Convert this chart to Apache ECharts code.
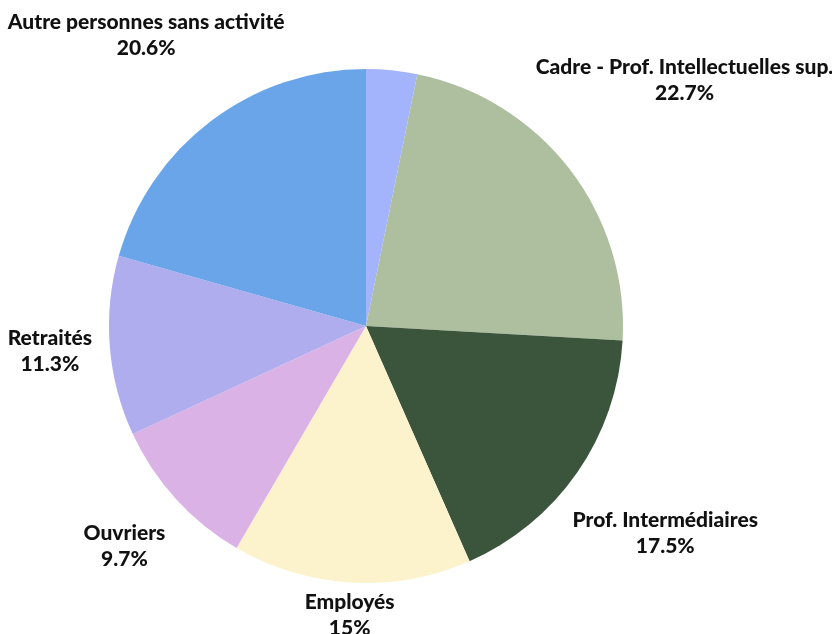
<!DOCTYPE html>
<html><head><meta charset="utf-8">
<script src="https://cdn.jsdelivr.net/npm/echarts@6/dist/echarts.min.js"></script>
<style>html,body{margin:0;padding:0;background:#fff}#c{width:832px;height:634px}</style>
</head><body><div id="c"></div>
<script>
const categories = ['Artisans, commerçants', 'Cadre - Prof. Intellectuelles sup.', 'Prof. Intermédiaires', 'Employés', 'Ouvriers', 'Retraités', 'Autre personnes sans activité'];
const values = [3.2, 22.7, 17.5, 15, 9.7, 11.3, 20.6];
const showLabel = [false, true, true, true, true, true, true];
const colors = ['#a3b4fd', '#adbf9e', '#3b543c', '#fcf2cb', '#dbb2e6', '#b0adee', '#6aa5e9'];
// extra radial push for each label (style)
const labelPush = [0, 15, 12, 0, 16, 11, 15];

const CX = 366, CY = 326, R = 257, GAP = 6;
const total = values.reduce((a, b) => a + b, 0);
const cum = [];
values.reduce((acc, v, i) => { cum[i] = acc; return acc + v; }, 0);

const chart = echarts.init(document.getElementById('c'), null, { renderer: 'canvas' });
chart.setOption({
  animation: false,
  backgroundColor: '#fff',
  series: [{
    type: 'pie',
    center: [CX, CY],
    radius: [0, R],
    startAngle: 90,
    clockwise: true,
    avoidLabelOverlap: false,
    label: {
      show: true,
      position: 'outside',
      formatter: '{b}\n{c}%',
      fontFamily: 'Lato',
      fontWeight: 900,
      fontSize: 21,
      lineHeight: 26,
      color: '#111',
      align: 'center'
    },
    labelLine: { show: false },
    labelLayout: function (p) {
      const i = p.dataIndex;
      const th = 2 * Math.PI * (cum[i] + values[i] / 2) / total;
      const dx = Math.sin(th), dy = -Math.cos(th);
      const hw = p.labelRect.width / 2, hh = p.labelRect.height / 2;
      const dist = t => {
        const ax = Math.max(0, Math.abs(dx * t) - hw);
        const ay = Math.max(0, Math.abs(dy * t) - hh);
        return Math.sqrt(ax * ax + ay * ay);
      };
      let lo = 0, hi = 800;
      for (let k = 0; k < 60; k++) {
        const m = (lo + hi) / 2;
        if (dist(m) < R + GAP) lo = m; else hi = m;
      }
      const t = hi + labelPush[i];
      return { x: CX + dx * t, y: CY + dy * t, align: 'center', verticalAlign: 'middle' };
    },
    itemStyle: { borderWidth: 0 },
    emphasis: { disabled: true },
    data: categories.map((n, i) => ({
      name: n, value: values[i],
      itemStyle: { color: colors[i] },
      label: { show: showLabel[i] }
    }))
  }]
});
</script></body></html>
